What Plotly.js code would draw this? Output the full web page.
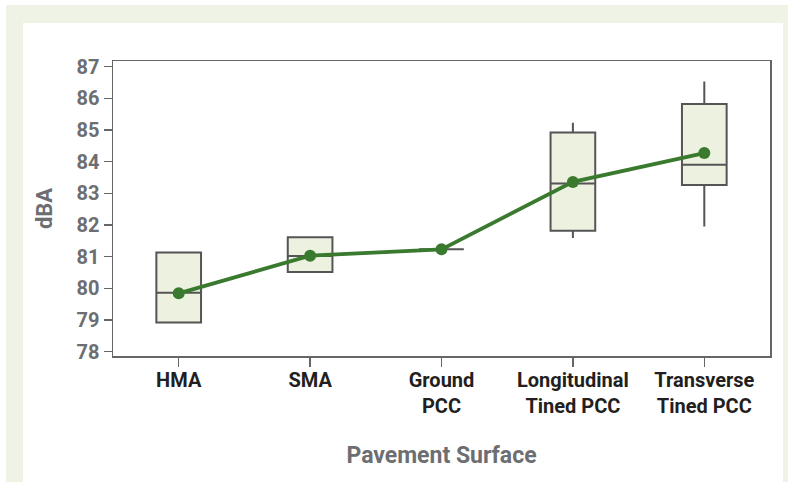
<!DOCTYPE html>
<html>
<head>
<meta charset="utf-8">
<script src="https://cdn.plot.ly/plotly-3.0.1.min.js"></script>
<style>html,body{margin:0;padding:0;background:#fff;}#chart{width:788px;height:482px;}</style>
</head>
<body>
<div id="chart"></div>
<script>
const categories = ["HMA", "SMA", "Ground<br>PCC", "Longitudinal<br>Tined PCC", "Transverse<br>Tined PCC"];
const lowerWhisker = [78.92, 80.51, 81.23, 81.59, 81.95];
const q1Values = [78.92, 80.51, 81.23, 81.82, 83.26];
const medianValues = [79.86, 81.02, 81.23, 83.31, 83.90];
const q3Values = [81.13, 81.61, 81.23, 84.92, 85.82];
const upperWhisker = [81.13, 81.61, 81.23, 85.23, 86.53];
const meanValues = [79.84, 81.03, 81.23, 83.36, 84.27];
const yTicks = [78, 79, 80, 81, 82, 83, 84, 85, 86, 87];

const FONT = "Roboto, sans-serif";

const boxTrace = {
  type: "box",
  x: categories,
  q1: q1Values,
  median: medianValues,
  q3: q3Values,
  lowerfence: lowerWhisker,
  upperfence: upperWhisker,
  width: 0.34,
  whiskerwidth: 0,
  fillcolor: "#edf1e0",
  line: { color: "#555555", width: 2 },
  hoverinfo: "skip",
  showlegend: false
};

const meanTrace = {
  type: "scatter",
  mode: "lines+markers",
  x: categories,
  y: meanValues,
  line: { color: "#3a7a2e", width: 3.8 },
  marker: { color: "#3a7a2e", size: 12 },
  showlegend: false,
  hoverinfo: "skip"
};

const L = 113, R = 770, T = 61, B = 356;
const W = R - L, H = B - T;
const px = v => (v - L) / W;
const py = v => (B - v) / H;

const layout = {
  width: 788, height: 482,
  margin: { l: L, r: 788 - R, t: T, b: 482 - B },
  paper_bgcolor: "#ffffff",
  plot_bgcolor: "rgba(0,0,0,0)",
  showlegend: false,
  font: { family: FONT, weight: 700 },
  shapes: [
    { type: "rect", xref: "paper", yref: "paper", layer: "below",
      x0: px(6), x1: px(800), y0: py(500), y1: py(5),
      fillcolor: "#eff3e5", line: { width: 0 } },
    { type: "rect", xref: "paper", yref: "paper", layer: "below",
      x0: px(23), x1: px(783), y0: py(500), y1: py(23),
      fillcolor: "#ffffff", line: { width: 0 } }
  ],
  xaxis: {
    type: "category",
    range: [-0.5, 4.5],
    showline: true, mirror: true, linecolor: "#666666", linewidth: 1.5,
    ticks: "outside", ticklen: 9, tickcolor: "#666666", tickwidth: 1.5,
    ticklabelstandoff: -4,
    showgrid: false, zeroline: false,
    tickfont: { family: FONT, size: 20, color: "#231f20", weight: 700 },
    title: { text: "Pavement Surface", standoff: 30,
      font: { family: FONT, size: 23, color: "#6d6e71", weight: 700 } }
  },
  yaxis: {
    range: [77.86, 87.18],
    tickvals: yTicks,
    showline: true, mirror: true, linecolor: "#666666", linewidth: 1.5,
    ticks: "outside", ticklen: 8, tickcolor: "#666666", tickwidth: 1.5,
    showgrid: false, zeroline: false,
    tickfont: { family: FONT, size: 20, color: "#6d6e71", weight: 700 },
    title: { text: "dBA", standoff: 18,
      font: { family: FONT, size: 22, color: "#6d6e71", weight: 700 } }
  }
};

Plotly.newPlot("chart", [boxTrace, meanTrace], layout, { displayModeBar: false, staticPlot: true });
</script>
</body>
</html>
